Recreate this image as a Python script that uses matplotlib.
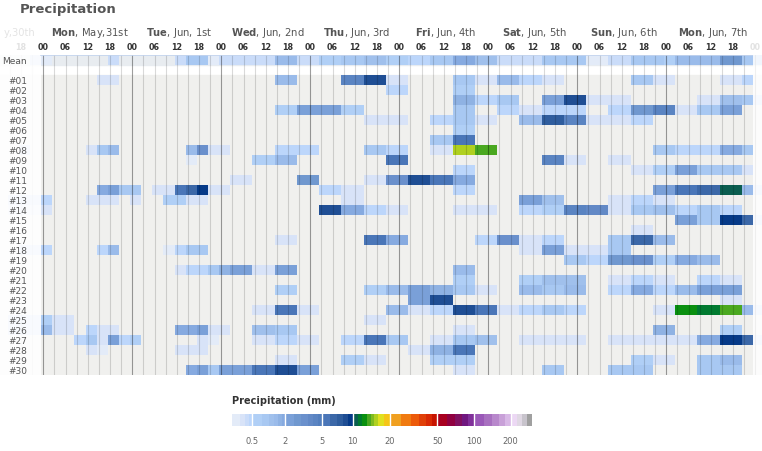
import numpy as np
import matplotlib
matplotlib.use("Agg")
import matplotlib.pyplot as plt
from matplotlib.colors import ListedColormap, BoundaryNorm
from matplotlib.patches import Rectangle

# ---------------------------------------------------------------- data
day_names = ["Mon", "Tue", "Wed", "Thu", "Fri", "Sat", "Sun", "Mon"]
day_dates = ["May,31st", "Jun, 1st", "Jun, 2nd", "Jun, 3rd",
             "Jun, 4th", "Jun, 5th", "Jun, 6th", "Jun, 7th"]
prev_day_tail = "y,30th"   # the part of "Sun, May,30th" left on screen
hour_labels = ["00", "06", "12", "18"]
member_labels = ["#%02d" % i for i in range(1, 31)]

# 3-hourly steps counted from Mon May 31 00 (= step 0): (first, last, mm)
mean_runs = [(-1, -1, .45), (0, 0, .15), (6, 6, .35), (12, 12, .35), (13, 14, .85),
             (15, 15, .15), (16, 20, .35), (21, 22, 1.3), (23, 24, .35), (25, 26, .6),
             (27, 28, .85), (29, 30, 1.1), (31, 32, .5), (33, 34, .45), (35, 36, .85),
             (37, 38, 1.8), (39, 40, 1.1), (41, 43, .3), (44, 44, .35), (45, 48, .85),
             (49, 50, .15), (51, 52, .3), (53, 55, .85), (56, 56, .6), (57, 60, 1.3),
             (61, 62, 2.7), (63, 64, .85)]

member_runs = [
    [(5, 6, .25), (21, 22, 1.3), (27, 28, 4.2), (29, 30, 8.5), (31, 32, .25), (37, 38, .85),
     (39, 40, .25), (41, 42, 1.3), (43, 44, .45), (45, 46, .25), (53, 54, .85), (55, 56, .25),
     (61, 62, .25), (63, 63, .45)],
    [(31, 32, .45), (37, 38, .6)],
    [(37, 38, 1.6), (39, 40, .45), (41, 42, .85), (45, 46, 2.0), (47, 48, 8.5), (49, 52, .25),
     (59, 60, .25), (61, 62, 1.1), (63, 63, .85), (64, 64, .3)],
    [(21, 22, .6), (23, 26, 2.2), (27, 28, .5), (37, 38, .85), (41, 42, .45), (43, 44, .25),
     (45, 48, .45), (51, 52, .45), (53, 54, 2.7), (55, 56, 4.2), (57, 58, .25), (59, 60, .85),
     (61, 62, 2.2)],
    [(29, 32, .25), (35, 36, .45), (37, 38, .85), (39, 40, .25), (43, 44, 1.3), (45, 46, 7.5),
     (47, 48, 4.2), (49, 52, .25), (53, 54, .45)],
    [(37, 38, .6)],
    [(35, 36, .85), (37, 38, 5.0)],
    [(-2, -2, .45), (4, 4, .25), (5, 5, .85), (6, 6, 1.3), (13, 13, 1.3), (14, 14, 3.2),
     (15, 16, .25), (21, 24, .45), (29, 30, .85), (31, 32, .45), (35, 36, .25), (37, 38, 15.5),
     (39, 40, 13.5), (55, 56, .85), (57, 60, .45), (61, 62, 1.8), (63, 63, .85)],
    [(13, 13, .12), (19, 20, .5), (21, 22, 1.3), (31, 32, 5.5), (45, 46, 4.2), (47, 48, .25),
     (51, 52, .25)],
    [(37, 38, .45), (53, 54, .25), (55, 56, .6), (57, 58, 2.2), (59, 62, .85), (63, 63, .25)],
    [(17, 18, .25), (23, 24, 2.7), (29, 30, .25), (31, 32, 3.2), (33, 34, 8.5), (35, 36, 5.0),
     (37, 38, 1.8)],
    [(5, 5, 1.8), (6, 6, 2.2), (7, 8, .85), (10, 11, .25), (12, 12, 5.5), (13, 13, 6.5),
     (14, 14, 9.5), (15, 16, .25), (25, 26, .45), (27, 28, .25), (37, 38, .45), (55, 56, 2.2),
     (57, 58, 5.0), (59, 60, 6.2), (61, 62, 10.5), (63, 63, 1.3), (64, 64, .3)],
    [(-3, -1, .45), (0, 0, .45), (4, 6, .25), (8, 8, .25), (11, 12, .5), (13, 14, .25),
     (27, 28, .25), (43, 44, 2.2), (45, 46, 1.1), (51, 52, .25), (53, 54, .45), (55, 56, .25)],
    [(-3, -1, .25), (0, 0, .25), (25, 26, 8.5), (27, 28, 1.8), (29, 30, .45), (31, 32, .25),
     (37, 40, .25), (43, 44, .45), (45, 46, .5), (47, 48, 4.2), (49, 50, 3.5), (51, 52, .25),
     (53, 54, .85), (55, 56, 1.1), (57, 58, .45), (59, 60, .85), (61, 62, .45)],
    [(57, 58, 2.2), (59, 60, .85), (61, 62, 9.8), (63, 63, 6.0), (64, 64, .3)],
    [(53, 54, .25)],
    [(21, 22, .25), (29, 30, 5.0), (31, 32, 1.8), (39, 40, .45), (41, 42, 3.2), (43, 44, .25),
     (45, 46, .45), (51, 52, .85), (53, 54, 6.5), (55, 56, 1.3)],
    [(-2, -1, .45), (0, 0, .45), (5, 5, .45), (6, 6, 1.3), (11, 11, .12), (12, 12, .45),
     (13, 14, .85), (43, 44, .25), (45, 46, 2.2), (47, 50, .25), (51, 52, .85)],
    [(47, 48, .85), (49, 50, .45), (51, 52, 2.6), (53, 54, 3.2), (55, 56, .6), (57, 58, 1.8),
     (59, 60, 1.3)],
    [(12, 12, .25), (13, 14, .45), (15, 15, .85), (16, 16, 1.6), (17, 18, 2.2), (19, 20, .25),
     (21, 22, 2.2), (37, 38, 1.3)],
    [(37, 38, .6), (43, 44, .5), (45, 48, 1.2), (51, 52, .25), (53, 54, .45), (55, 56, .25),
     (59, 60, .45), (61, 62, .25)],
    [(21, 22, .5), (29, 30, .5), (31, 32, 1.3), (33, 34, 2.2), (35, 36, 1.6), (37, 38, .85),
     (39, 40, .25), (43, 44, 1.3), (45, 46, .85), (47, 48, 1.3), (51, 52, .45), (53, 54, 1.8),
     (55, 56, .45), (57, 58, 1.3), (59, 62, 2.2)],
    [(33, 34, 2.2), (35, 36, 8.5), (61, 62, .25)],
    [(19, 20, .25), (21, 22, 5.0), (23, 24, .25), (31, 32, 1.4), (33, 34, .25), (35, 36, .45),
     (37, 38, 8.5), (39, 40, 5.0), (41, 42, .25), (43, 44, .45), (45, 46, .85), (47, 48, .45),
     (55, 56, .25), (57, 58, 12.5), (59, 60, 11.5), (61, 62, 13.5), (63, 63, 1.3), (64, 64, .3)],
    [(-3, -1, .45), (0, 0, .6), (1, 2, .25), (29, 30, .25)],
    [(-3, -1, .45), (0, 0, 1.3), (1, 2, .25), (4, 4, .45), (5, 6, .25), (12, 13, 1.8),
     (14, 14, 2.2), (15, 16, .25), (19, 20, 1.1), (21, 22, .85), (37, 38, .25), (55, 56, 1.6),
     (61, 62, .6)],
    [(3, 3, .45), (4, 4, .85), (5, 5, .25), (6, 6, 2.2), (7, 7, .45), (8, 8, .5), (14, 14, .25),
     (15, 15, .12), (19, 20, .25), (21, 22, .45), (23, 24, .25), (27, 28, .45), (29, 30, 5.0),
     (31, 32, .85), (35, 36, .25), (37, 38, .85), (39, 40, 1.1), (43, 48, .25), (51, 58, .25),
     (59, 60, 1.8), (61, 62, 9.8), (63, 63, 6.0), (64, 64, .3)],
    [(4, 4, .25), (5, 5, .12), (12, 14, .25), (33, 34, .25), (35, 36, 1.6), (37, 38, 5.5)],
    [(21, 22, .25), (27, 28, .5), (29, 30, .25), (35, 38, .5), (53, 54, .6), (55, 56, .25),
     (59, 60, .85), (61, 62, 1.3)],
    [(13, 13, 1.8), (14, 14, 2.2), (15, 15, .85), (16, 18, 2.4), (19, 20, 5.5), (21, 22, 8.5),
     (23, 24, 2.2), (37, 38, .25), (45, 46, .85), (51, 54, .85), (59, 62, .85)],
]

levels = [0.1, 0.2, 0.3, 0.4, 0.5, 0.75, 1, 1.25, 1.5, 1.75, 2, 2.5, 3, 3.5, 4, 4.5, 5,
          6, 7, 8, 9, 10, 11, 12, 13, 14, 15, 16, 18, 20, 25, 30, 35, 40, 45, 50,
          60, 70, 80, 90, 100, 120, 140, 160, 180, 200, 225, 250, 275, 300]
level_colors = ["#e3ebf8", "#d8e3f8", "#cadcf9", "#bcd6fb", "#b0cff6", "#a8c8f2",
                "#a0c0ec", "#9abbea", "#8fb2e3", "#86aae0", "#7aa0d8", "#7098cf",
                "#6a90cc", "#6289c6", "#5a84c2", "#527ebd", "#4a76b8", "#3c68a8",
                "#2f5d9e", "#1f4e94", "#063a88", "#0b5e50", "#007a30", "#0a9010",
                "#4aa820", "#80bb20", "#b0d020", "#e0e020", "#f5c518", "#f0a020",
                "#f07a10", "#ec5a0a", "#e04008", "#d82a05", "#c81400", "#a80020",
                "#900040", "#801060", "#701880", "#80309a", "#9a58b8", "#a870c0",
                "#b888cc", "#c8a0d8", "#d8b8e6", "#ecd8f4", "#e0d8e4", "#c8c4cc",
                "#a0a0a0"]
cbar_ticks = [0.5, 2, 5, 10, 20, 50, 100, 200]
cbar_anchor_mm = [0.1, 0.5, 2, 5, 10, 20, 50, 100, 200, 300]
cbar_anchor_px = [0, 19.7, 53.3, 89.7, 120.7, 157.7, 205.3, 242, 278.5, 300]

# ---------------------------------------------------------------- layout
W, H = 762, 451
X0 = 43.3            # pixel of Mon 00
PXH = 89.0 / 24      # pixels per hour
FIRST, LAST = -4, 64
CELL_SHIFT = -0.62   # cells sit slightly left of the hour grid


def h_of(px):
    return (px - X0) / PXH


steps = np.arange(FIRST, LAST + 1)
grid = np.full((32, len(steps)), np.nan)


def fill(row, runs):
    for a, b, v in runs:
        grid[row, a - FIRST:b - FIRST + 1] = v


fill(0, mean_runs)
for i, runs in enumerate(member_runs):
    fill(i + 2, runs)

cmap = ListedColormap(level_colors)
norm = BoundaryNorm(levels, cmap.N)

fig = plt.figure(figsize=(W / 100, H / 100), dpi=100)
ax = fig.add_axes([0, 1 - 375 / H, 1, 320 / H])
ax.set_xlim(h_of(0), h_of(W))
ax.set_ylim(32, 0)
ax.axis("off")

ax.add_patch(Rectangle((h_of(0), 2), h_of(W) - h_of(0), 30, color="#f0f0ee", zorder=0))
ax.add_patch(Rectangle((h_of(0), 0), h_of(W) - h_of(0), 1, color="#e8ecf0", zorder=0))

xe = 3 * np.arange(FIRST, LAST + 2) + CELL_SHIFT
ax.pcolormesh(xe, np.arange(33), np.ma.masked_invalid(grid), cmap=cmap, norm=norm,
              zorder=2)

for k in range(FIRST, LAST + 2):
    day = k % 8 == 0
    ax.plot([3 * k, 3 * k], [0, 32], color="black", alpha=0.38 if day else 0.15,
            lw=0.8, zorder=3)
ax.plot([h_of(41), h_of(752)], [0, 0], color="#c3d4ee", lw=1.2, zorder=5)

# faded edges
ax.add_patch(Rectangle((h_of(0), 0), h_of(41) - h_of(0), 32, color="white", alpha=0.9,
                       zorder=4, lw=0))
ax.add_patch(Rectangle((h_of(752.5), 0), h_of(W) - h_of(752.5), 32, color="white",
                       alpha=0.85, zorder=4, lw=0))

# row labels
ax.text(27 / W, 0.65, "Mean", transform=ax.get_yaxis_transform(), ha="right",
        va="center", fontsize=6.5, color="#555", zorder=6)
for i, lab in enumerate(member_labels):
    ax.text(27 / W, i + 2.65, lab, transform=ax.get_yaxis_transform(), ha="right",
            va="center", fontsize=6.5, color="#555", zorder=6)

# hour labels
for j in range(-1, 33):
    h = 6 * j
    faded = h < 0 or h > 189
    ax.text(h, -0.8, hour_labels[j % 4], ha="center", va="center", fontsize=5.8,
            fontweight="bold", color="#e2e2e2" if faded else "#333")

# day labels
ax.text(35 / W, -2.2, prev_day_tail, transform=ax.get_yaxis_transform(), ha="right",
        va="center", fontsize=7.2, color="#e4e4e4")
for d, (name, date) in enumerate(zip(day_names, day_dates)):
    h = 24 * d + 12.5
    ax.text(h, -2.2, r"$\mathbf{%s}$, %s" % (name, date), ha="center", va="center",
            fontsize=7.2, color="#555")

fig.text(20 / W, 1 - 10 / H, "Precipitation", ha="left", va="center", fontsize=9.5,
         fontweight="bold", color="#555")

# colour legend
cax = fig.add_axes([232 / W, 1 - 426 / H, 300 / W, 12.5 / H])
lmm = np.log(cbar_anchor_mm)
pos = np.array(cbar_anchor_px) / 300.0


def fwd(v):
    v = np.clip(np.asarray(v, dtype=float), 1e-6, None)
    return np.interp(np.log(v), lmm, pos, left=0, right=1)


def inv(p):
    return np.exp(np.interp(p, pos, lmm))


cax.set_xscale("function", functions=(fwd, inv))
mids = [(levels[i] + levels[i + 1]) / 2 for i in range(len(levels) - 1)]
cax.pcolormesh(levels, [0, 1], np.array([mids]), cmap=cmap, norm=norm)
for t in cbar_ticks:
    cax.axvline(t, color="white", lw=1)
cax.set_xlim(levels[0], levels[-1])
cax.set_ylim(0, 1)
cax.set_yticks([])
cax.set_xticks(cbar_ticks)
cax.set_xticklabels(["0.5", "2", "5", "10", "20", "50", "100", "200"])
cax.xaxis.set_minor_locator(matplotlib.ticker.NullLocator())
cax.tick_params(axis="x", length=0, pad=8, labelsize=6, labelcolor="#666")
for s in cax.spines.values():
    s.set_visible(False)

fig.text(232 / W, 1 - 401 / H, "Precipitation (mm)", ha="left", va="center",
         fontsize=7, fontweight="bold", color="#333")

fig.savefig("out.png", dpi=100)
